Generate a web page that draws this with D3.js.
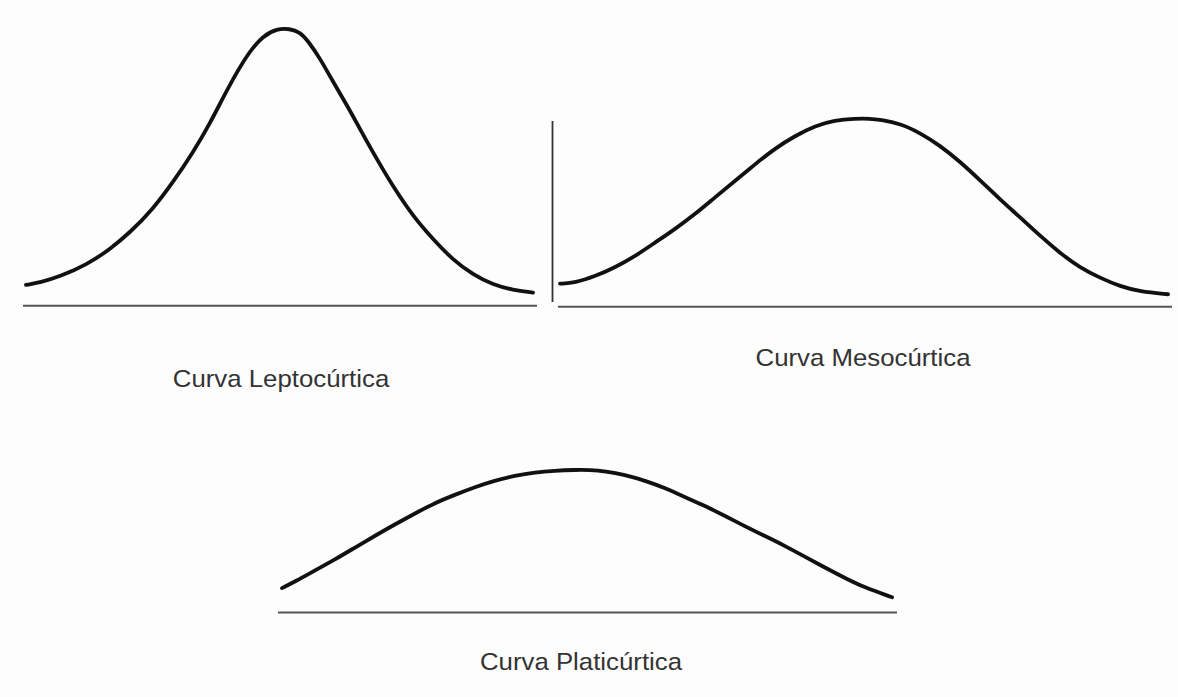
<!DOCTYPE html>
<html>
<head>
<meta charset="utf-8">
<script src="https://cdn.jsdelivr.net/npm/d3@7"></script>
<style>
  html, body { margin: 0; padding: 0; background: #fdfdfd; }
  svg { display: block; }
  .label { font-family: "Liberation Sans", Arial, sans-serif; font-size: 24px; fill: #333; }
</style>
</head>
<body>
<svg id="chart" width="1178" height="697"></svg>
<script>
// standardised x position (-3..3) and relative height (leptokurtic peak = 1)
const leptoX = [-3, -2.83, -2.6, -2.28, -2.01, -1.77, -1.5, -1.26, -1.02, -0.82, -0.67, -0.5, -0.35, -0.2, -0.03,
    0.12, 0.24, 0.33, 0.48, 0.63, 0.8, 0.95, 1.15, 1.34, 1.58, 1.82, 2.05, 2.29, 2.53, 2.76, 3];
const leptoY = [0.075, 0.084, 0.105, 0.148, 0.203, 0.264, 0.348, 0.446, 0.555, 0.66, 0.75, 0.846, 0.919, 0.973, 1.0,
    1.0, 0.988, 0.959, 0.893, 0.81, 0.723, 0.639, 0.53, 0.432, 0.323, 0.239, 0.166, 0.112, 0.075, 0.057, 0.047];

const mesoX = [-3, -2.85, -2.66, -2.46, -2.26, -2.06, -1.87, -1.67, -1.47, -1.27, -1.08, -0.88, -0.68, -0.48, -0.29, -0.09,
    0.06, 0.16, 0.36, 0.55, 0.75, 0.95, 1.15, 1.34, 1.54, 1.74, 1.93, 2.13, 2.33, 2.53, 2.72, 3];
const mesoY = [0.083, 0.087, 0.109, 0.141, 0.182, 0.232, 0.279, 0.333, 0.395, 0.455, 0.513, 0.571, 0.617, 0.653, 0.673, 0.679,
    0.679, 0.675, 0.661, 0.628, 0.582, 0.523, 0.455, 0.388, 0.323, 0.255, 0.195, 0.141, 0.104, 0.073, 0.055, 0.045];

const platiX = [-3, -2.87, -2.68, -2.48, -2.28, -2.09, -1.89, -1.69, -1.5, -1.3, -1.1, -0.91, -0.71, -0.51, -0.32, -0.12,
    0.03, 0.18, 0.37, 0.57, 0.77, 0.96, 1.16, 1.36, 1.55, 1.75, 1.95, 2.14, 2.34, 2.54, 2.73, 3];
const platiY = [0.088, 0.112, 0.151, 0.191, 0.235, 0.276, 0.318, 0.358, 0.395, 0.425, 0.453, 0.476, 0.494, 0.506, 0.512, 0.515,
    0.515, 0.51, 0.497, 0.476, 0.449, 0.417, 0.385, 0.348, 0.312, 0.276, 0.24, 0.202, 0.162, 0.124, 0.09, 0.055];

const labels = ['Curva Leptocúrtica', 'Curva Mesocúrtica', 'Curva Platicúrtica'];

// placement of each small panel on the page
const panels = [
    { xs: leptoX, ys: leptoY, label: labels[0], x0: 26, x1: 533, base: 305.7, axis: [23, 537], lx: 281, ly: 387 },
    { xs: mesoX, ys: mesoY, label: labels[1], x0: 560, x1: 1168, base: 306.7, axis: [558, 1172], lx: 863, ly: 366 },
    { xs: platiX, ys: platiY, label: labels[2], x0: 282, x1: 892, base: 612.5, axis: [278, 897], lx: 581, ly: 669.5 }
];
const unitHeight = 277;  // pixels for relative height 1

const svg = d3.select('#chart');

panels.forEach(p => {
    const x = d3.scaleLinear().domain([-3, 3]).range([p.x0, p.x1]);
    const y = d3.scaleLinear().domain([0, 1]).range([p.base, p.base - unitHeight]);
    const g = svg.append('g');

    // baseline
    g.append('line')
        .attr('x1', p.axis[0]).attr('x2', p.axis[1])
        .attr('y1', y(0)).attr('y2', y(0))
        .attr('stroke', '#555')
        .attr('stroke-width', 2);

    const line = d3.line()
        .x(d => x(d[0]))
        .y(d => y(d[1]))
        .curve(d3.curveBasis);

    g.append('path')
        .datum(d3.zip(p.xs, p.ys))
        .attr('d', line)
        .attr('fill', 'none')
        .attr('stroke', '#111')
        .attr('stroke-width', 3.8)
        .attr('stroke-linecap', 'round');

    g.append('text')
        .attr('class', 'label')
        .attr('text-anchor', 'middle')
        .attr('transform', `translate(${p.lx},${p.ly}) scale(1.075,1)`)
        .text(p.label);
});

// divider between the first two panels
svg.append('line')
    .attr('x1', 552.5).attr('x2', 552.5)
    .attr('y1', 121).attr('y2', 302)
    .attr('stroke', '#333')
    .attr('stroke-width', 1.8);
</script>
</body>
</html>
